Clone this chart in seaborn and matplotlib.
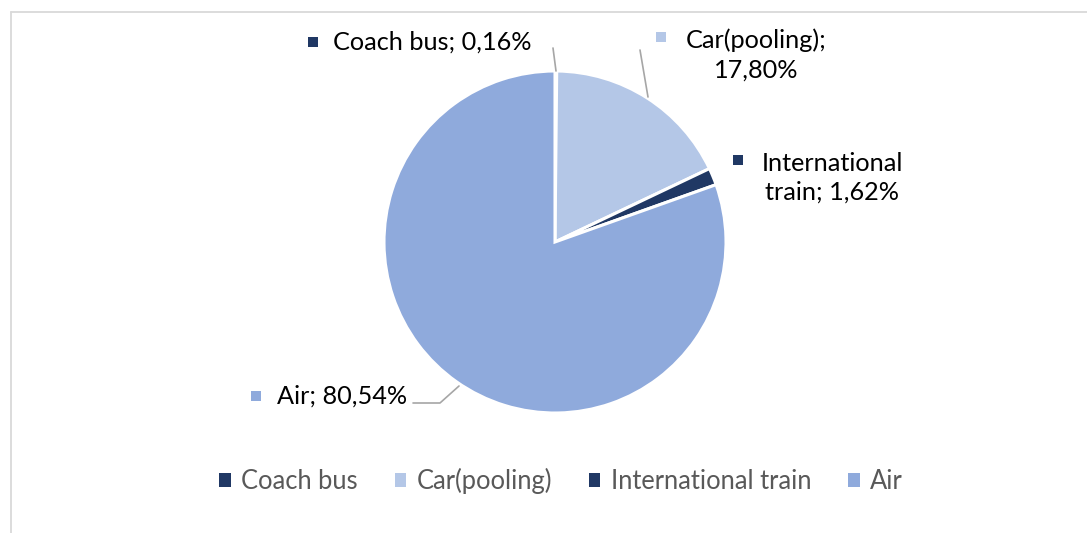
import matplotlib
matplotlib.use("Agg")
import matplotlib.pyplot as plt
from matplotlib.lines import Line2D
from matplotlib.patches import Rectangle
import seaborn as sns

categories = ["Coach bus", "Car(pooling)", "International train", "Air"]
shares = [0.16, 17.80, 1.62, 80.54]
colors = ["#203864", "#B4C7E7", "#203864", "#8FAADC"]

sns.set_theme(style="white")
plt.rcParams["font.family"] = ["Lato", "DejaVu Sans"]

W, H = 1087, 533
fig = plt.figure(figsize=(W / 100, H / 100), dpi=100)
ax = fig.add_axes([0, 0, 1, 1])
CX, CY, R = 555, 242, 171


def P(px, py):
    return ((px - CX) / R, (CY - py) / R)


wedges, _ = ax.pie(shares, colors=colors, startangle=90, counterclock=False,
                   radius=1.0, center=(0, 0),
                   wedgeprops=dict(edgecolor="white", linewidth=2.2))
ax.set_xlim(P(0, 0)[0], P(W, 0)[0])
ax.set_ylim(P(0, H)[1], P(0, 0)[1])
ax.set_aspect("equal")
ax.axis("off")

fs = 18.2
tc = "#000000"


def fmt(v):
    return f"{v:.2f}".replace(".", ",") + "%"


def key(px, py, color, size=10):
    x0, y0 = P(px - size / 2, py + size / 2)
    ax.add_patch(Rectangle((x0, y0), size / R, size / R, facecolor=color,
                           edgecolor="none", zorder=5))


def line(pts):
    xs, ys = zip(*[P(*p) for p in pts])
    ax.add_line(Line2D(xs, ys, color="#A6A6A6", lw=1.2, zorder=4))


# Coach bus
key(313, 42, colors[0])
ax.text(*P(333, 42), f"{categories[0]}; {fmt(shares[0])}", fontsize=fs, color=tc,
        ha="left", va="center")
line([(556, 71), (553, 48)])

# Car(pooling)
key(661, 37, colors[1])
ax.text(*P(756, 55), f"{categories[1]};\n{fmt(shares[1])}", fontsize=fs, color=tc,
        ha="center", va="center", linespacing=1.38)
line([(648, 97), (640, 50)])

# International train
key(738, 160, colors[2])
ax.text(*P(832, 178), f"International\ntrain; {fmt(shares[2])}", fontsize=fs, color=tc,
        ha="center", va="center", linespacing=1.32)

# Air
key(256, 396, colors[3])
ax.text(*P(277, 396), f"{categories[3]}; {fmt(shares[3])}", fontsize=fs, color=tc,
        ha="left", va="center")
line([(459, 386), (440, 403), (413, 403)])

# Legend
handles = [Rectangle((0, 0), 1, 1, facecolor=c, edgecolor="none") for c in colors]
leg = ax.legend(handles, categories, loc="center", ncol=4, frameon=False,
                bbox_to_anchor=(561 / W, 1 - 481 / H), bbox_transform=fig.transFigure,
                fontsize=18.4, handlelength=0.45, handleheight=0.45, handletextpad=0.4,
                columnspacing=1.45, labelcolor="#595959")

# Chart border (top and left)
fig.add_artist(Line2D([11 / W, 1.0], [1 - 12 / H, 1 - 12 / H], transform=fig.transFigure,
                      color="#D9D9D9", lw=1.3))
fig.add_artist(Line2D([11 / W, 11 / W], [0, 1 - 12 / H], transform=fig.transFigure,
                      color="#D9D9D9", lw=1.3))

fig.savefig("out.png", dpi=100, facecolor="white")
